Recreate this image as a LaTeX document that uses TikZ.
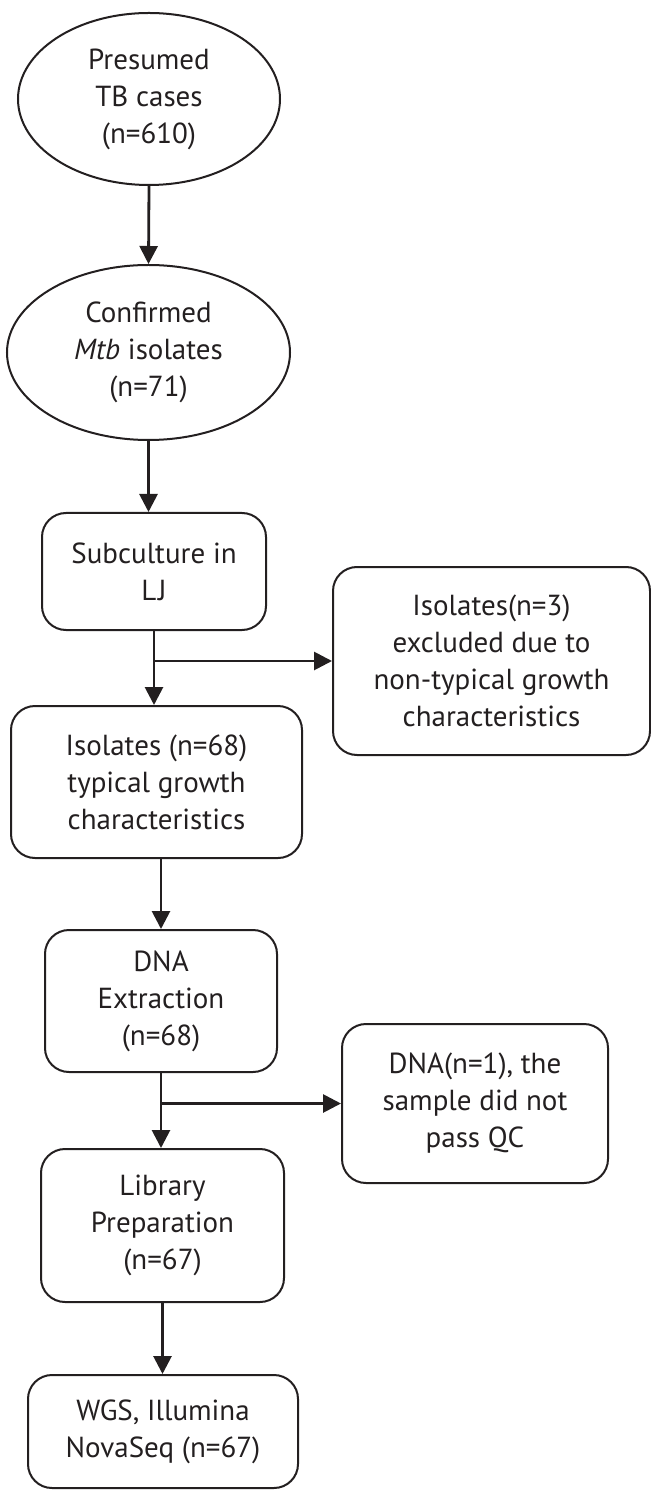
\documentclass[tikz,border=0pt]{standalone}
\usepackage{fontspec}
\setmainfont{PT Sans}
\usetikzlibrary{arrows.meta,shapes,positioning}
\definecolor{flowink}{RGB}{35,31,32}
\tikzstyle{caseoval} = [ellipse, draw=flowink, line width=1pt, align=center, inner sep=0pt]
\tikzstyle{stepbox} = [rectangle, rounded corners=12pt, draw=flowink, line width=1pt, align=center, inner sep=0pt]
\tikzstyle{arrow} = [line width=1.4pt, draw=flowink, -{Triangle[length=9pt,width=9pt]}]

\begin{document}
\begin{tikzpicture}[x=0.5pt, y=-0.5pt, font=\fontsize{14.5}{18.5}\selectfont, text=flowink]
\useasboundingbox (0,0) rectangle (651,1491);
% Cases and isolates
\node[caseoval, minimum width=131pt, minimum height=86pt] (presumed) at (149,99) {Presumed\\TB cases\\(n=610)};
\node[caseoval, minimum width=141.5pt, minimum height=87.5pt] (confirmed) at (148.5,352.5) {Confirmed\\\textit{Mtb} isolates\\(n=71)};
% Culture steps
\node[stepbox, minimum width=112pt, minimum height=58.5pt] (subculture) at (154,571.5) {Subculture in\\L\kern0.8pt J};
\node[stepbox, minimum width=158.5pt, minimum height=94pt] (excluded) at (491.5,661) {Isolates(n=3)\\excluded due to\\non-typical growth\\characteristics};
\node[stepbox, minimum width=145.5pt, minimum height=76pt] (typical) at (156.5,782) {Isolates (n=68)\\typical growth\\characteristics};
% Sequencing steps
\node[stepbox, minimum width=116pt, minimum height=71pt] (extraction) at (161,1001) {DNA\\Extraction\\(n=68)};
\node[stepbox, minimum width=133pt, minimum height=79.5pt] (failqc) at (475,1103.5) {DNA(n=1), the\\sample did not\\pass QC};
\node[stepbox, minimum width=121.5pt, minimum height=76.5pt] (library) at (162.5,1225.5) {Library\\Preparation\\(n=67)};
\node[stepbox, minimum width=135pt, minimum height=56.5pt] (wgs) at (163,1431.5) {WGS, Illumina\\NovaSeq (n=67)};

% Connectors
\draw[arrow] (presumed.south) -- (confirmed.north);
\draw[arrow] (confirmed.south) -- (confirmed.south |- subculture.north);
\draw[arrow] (subculture.south) -- (subculture.south |- typical.north);
\coordinate (split1) at (subculture.south |- excluded.west);
\draw[arrow] (split1) -- (excluded.west);
\draw[arrow] (extraction.north |- typical.south) -- (extraction.north);
\draw[arrow] (extraction.south) -- (extraction.south |- library.north);
\coordinate (split2) at (extraction.south |- failqc.west);
\draw[arrow] (split2) -- (failqc.west);
\draw[arrow] (library.south) -- (library.south |- wgs.north);
\end{tikzpicture}
\end{document}
